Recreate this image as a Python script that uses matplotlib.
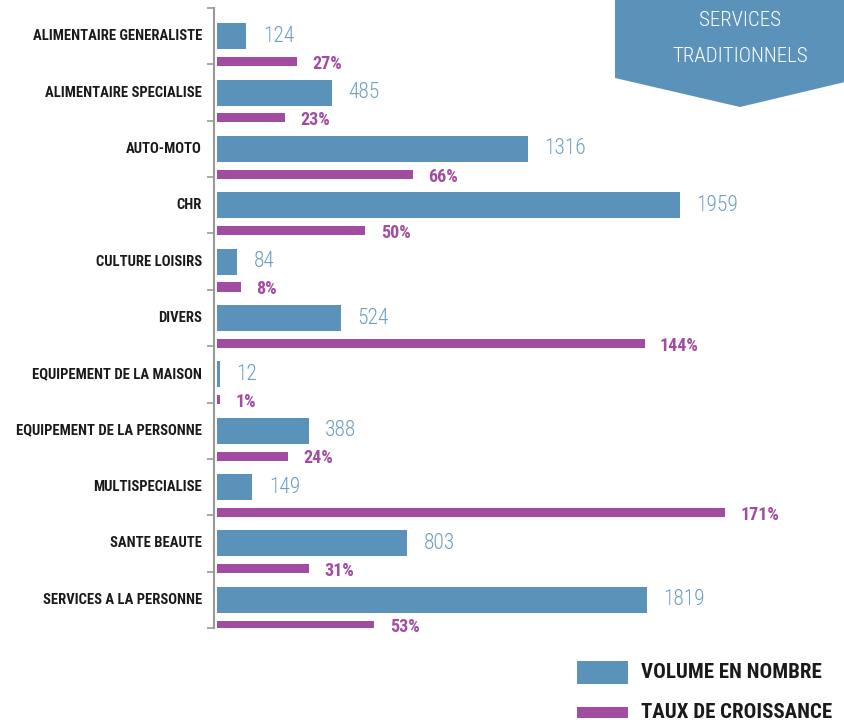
import matplotlib
matplotlib.use("Agg")
import matplotlib.pyplot as plt
from matplotlib.patches import Polygon, Rectangle

# data
categories = ["ALIMENTAIRE GENERALISTE", "ALIMENTAIRE SPECIALISE", "AUTO-MOTO", "CHR",
              "CULTURE LOISIRS", "DIVERS", "EQUIPEMENT DE LA MAISON",
              "EQUIPEMENT DE LA PERSONNE", "MULTISPECIALISE", "SANTE BEAUTE",
              "SERVICES A LA PERSONNE"]
volume = [124, 485, 1316, 1959, 84, 524, 12, 388, 149, 803, 1819]
croissance = [27, 23, 66, 50, 8, 144, 1, 24, 171, 31, 53]

BLUE = "#5b92b9"
BLUE_TXT = "#6c9fc4"
PURPLE = "#a14ca1"
FONT = ["Roboto Condensed", "Roboto", "DejaVu Sans"]

W, H = 845, 726
fig = plt.figure(figsize=(W / 100, H / 100), dpi=100)

def fx(x):
    return x / W

def fy(y):
    return 1 - y / H

ax = fig.add_axes([fx(217), fy(628), 628 / W, 620 / H])
ax2 = ax.twiny()

n = len(categories)
ypos = [i + 0.5 for i in range(n)]

ax.barh(ypos, volume, height=0.46, color=BLUE)
ax2.barh([y + 0.45 for y in ypos], croissance, height=0.16, color=PURPLE)

ax.set_xlim(0, 628 / 0.2363)
ax2.set_xlim(0, 628 / 2.97)
ax.set_ylim(n, 0)
ax2.set_ylim(n, 0)

for y, v in zip(ypos, volume):
    ax.annotate(str(v), (v, y), xytext=(12, 0), textcoords="offset points",
                va="center", ha="left", color=BLUE_TXT, fontsize=15.5,
                fontweight="light", family=FONT)
for y, v in zip(ypos, croissance):
    ax2.annotate(f"{v}%", (v, y + 0.49), xytext=(11, 0), textcoords="offset points",
                 va="center", ha="left", color=PURPLE, fontsize=13,
                 fontweight="bold", family=FONT)

# category labels and boundary ticks
ax.set_yticks(range(n + 1))
ax.set_yticklabels([])
ax.tick_params(axis="y", length=5, width=1.2, color="#999999")
for y, c in zip(ypos, categories):
    ax.text(-15 / 0.2363, y, c, ha="right", va="center", fontsize=10.5,
            fontweight="bold", color="#1a1a1a", family=FONT)

for a in (ax, ax2):
    a.set_xticks([])
    for s in ("top", "right", "bottom"):
        a.spines[s].set_visible(False)
    a.patch.set_visible(False)
ax2.spines["left"].set_visible(False)
ax.spines["left"].set_color("#999999")
ax.spines["left"].set_linewidth(1.5)
ax.spines["left"].set_position(("outward", 2))

# banner top right
banner = Polygon([(fx(615), fy(0)), (fx(845), fy(0)), (fx(845), fy(82)),
                  (fx(740), fy(107)), (fx(615), fy(78))],
                 closed=True, transform=fig.transFigure, facecolor=BLUE,
                 edgecolor="none")
fig.patches.append(banner)
fig.text(fx(740), fy(20), "SERVICES", ha="center", va="center", color="white",
         fontsize=15, fontweight="light", family=FONT)
fig.text(fx(740), fy(57), "TRADITIONNELS", ha="center", va="center", color="white",
         fontsize=15, fontweight="light", family=FONT)

# legend
fig.patches.append(Rectangle((fx(577), fy(684)), 51 / W, 23 / H,
                             transform=fig.transFigure, facecolor=BLUE, edgecolor="none"))
fig.patches.append(Rectangle((fx(577), fy(718)), 51 / W, 11 / H,
                             transform=fig.transFigure, facecolor=PURPLE, edgecolor="none"))
fig.text(fx(641), fy(672), "VOLUME EN NOMBRE", ha="left", va="center",
         fontsize=15, fontweight="bold", color="#1a1a1a", family=FONT)
fig.text(fx(641), fy(713), "TAUX DE CROISSANCE", ha="left", va="center",
         fontsize=15, fontweight="bold", color="#1a1a1a", family=FONT)

fig.savefig("out.png", dpi=100)
